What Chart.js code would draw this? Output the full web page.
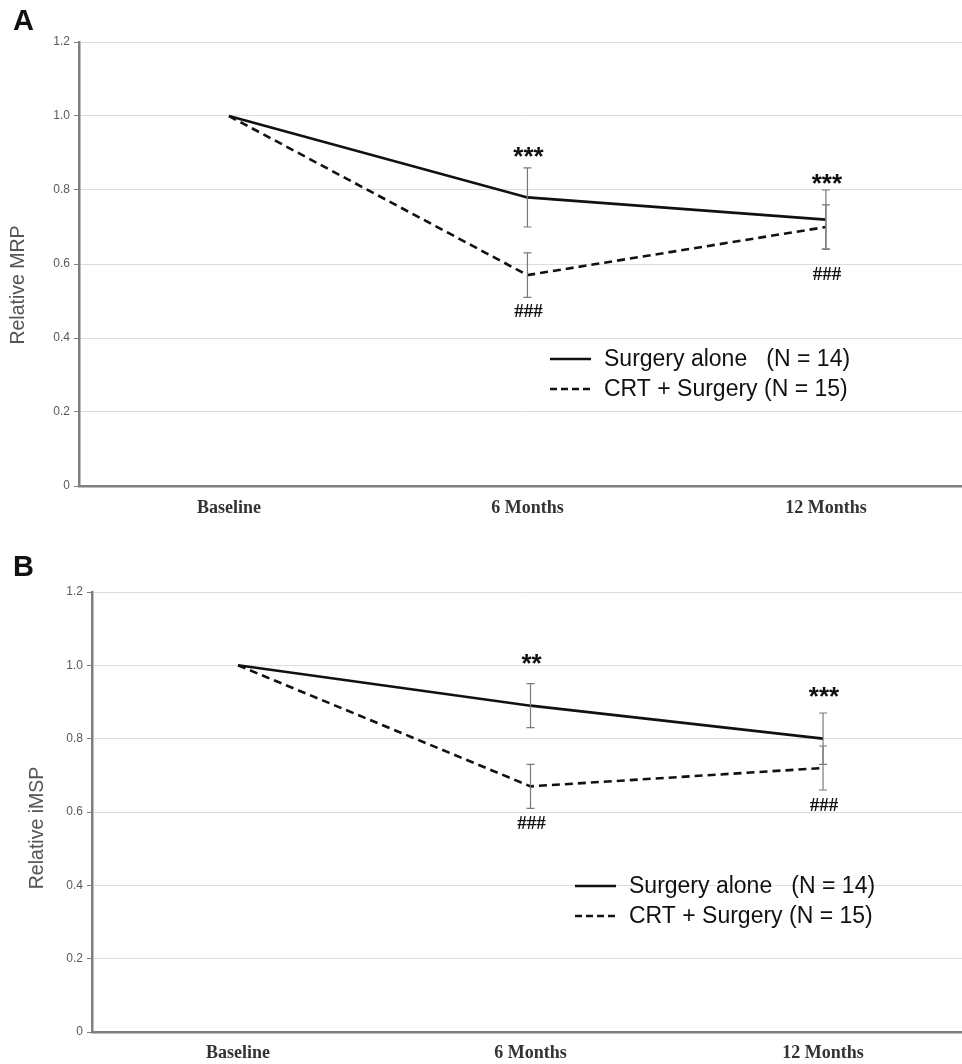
<!DOCTYPE html>
<html>
<head>
<meta charset="utf-8">
<script src="https://cdn.jsdelivr.net/npm/chart.js@4"></script>
<style>
  html, body { margin: 0; padding: 0; background: #fff; }
  body { width: 962px; height: 1064px; position: relative; overflow: hidden; }
  .panel { position: absolute; left: 0; width: 962px; }
  .tag { position: absolute; left: 13px; font: bold 29px "Liberation Sans", Arial, sans-serif; color: #111; z-index: 2; }
</style>
</head>
<body>
<div class="tag" style="top:4px">A</div>
<div class="tag" style="top:550px">B</div>
<div class="panel" style="top:0;height:535px"><canvas id="chartA" width="962" height="535"></canvas></div>
<div class="panel" style="top:540px;height:524px"><canvas id="chartB" width="962" height="524"></canvas></div>
<script>
const categories = ['Baseline', '6 Months', '12 Months'];
const yTicks = [0, 0.2, 0.4, 0.6, 0.8, 1.0, 1.2];
const seriesNames = ['Surgery alone   (N = 14)', 'CRT + Surgery (N = 15)'];

// panel A - relative MRP
const mrpSurgery = [1.0, 0.78, 0.72];
const mrpSurgeryLow = [null, 0.70, 0.64];
const mrpSurgeryHigh = [null, 0.86, 0.80];
const mrpCrt = [1.0, 0.57, 0.70];
const mrpCrtLow = [null, 0.51, 0.64];
const mrpCrtHigh = [null, 0.63, 0.76];
const mrpMarks = [
    { i: 1, y: 0.905, text: '***' },
    { i: 1, y: 0.473, text: '###' },
    { i: 2, y: 0.832, text: '***' },
    { i: 2, y: 0.573, text: '###' }
];

// panel B - relative iMSP
const imspSurgery = [1.0, 0.89, 0.80];
const imspSurgeryLow = [null, 0.83, 0.73];
const imspSurgeryHigh = [null, 0.95, 0.87];
const imspCrt = [1.0, 0.67, 0.72];
const imspCrtLow = [null, 0.61, 0.66];
const imspCrtHigh = [null, 0.73, 0.78];
const imspMarks = [
    { i: 1, y: 1.02, text: '**' },
    { i: 1, y: 0.57, text: '###' },
    { i: 2, y: 0.93, text: '***' },
    { i: 2, y: 0.619, text: '###' }
];

const toPoints = arr => arr.map((v, i) => ({ x: i, y: v }));

// error bars, significance marks, legend and y title
const extras = {
    id: 'extras',
    afterDatasetsDraw(chart, args, opts) {
        const { ctx } = chart;
        const xs = chart.scales.x, ys = chart.scales.y;
        ctx.save();
        ctx.strokeStyle = '#7a7a7a';
        ctx.lineWidth = 1.2;
        opts.errors.forEach(([lo, hi]) => {
            lo.forEach((l, i) => {
                if (l === null) return;
                const x = xs.getPixelForValue(i);
                const y1 = ys.getPixelForValue(l), y2 = ys.getPixelForValue(hi[i]);
                ctx.beginPath();
                ctx.moveTo(x, y1); ctx.lineTo(x, y2);
                ctx.moveTo(x - 4, y1); ctx.lineTo(x + 4, y1);
                ctx.moveTo(x - 4, y2); ctx.lineTo(x + 4, y2);
                ctx.stroke();
            });
        });

        ctx.fillStyle = '#111';
        ctx.textAlign = 'center';
        ctx.textBaseline = 'middle';
        opts.marks.forEach(m => {
            const x = xs.getPixelForValue(m.i);
            const y = ys.getPixelForValue(m.y);
            if (m.text[0] === '*') {
                ctx.font = 'bold 26px "Liberation Sans", Arial, sans-serif';
                ctx.fillText(m.text, x + 1, y + 7);
            } else {
                ctx.font = 'bold 19px "Liberation Serif", "Times New Roman", serif';
                ctx.fillText(m.text, x + 1, y + 1);
            }
        });

        // legend
        const lg = opts.legend;
        ctx.font = '23px "Liberation Sans", Arial, sans-serif';
        ctx.textAlign = 'left';
        ctx.strokeStyle = '#111';
        ctx.lineWidth = 2.5;
        seriesNames.forEach((name, k) => {
            const y = lg.y + k * 30;
            ctx.setLineDash(k === 0 ? [] : [7, 4]);
            ctx.beginPath();
            ctx.moveTo(lg.x, y); ctx.lineTo(lg.x + 41, y);
            ctx.stroke();
            ctx.fillText(name, lg.x + 54, y + 1);
        });
        ctx.setLineDash([]);

        // y axis title
        ctx.translate(opts.title.x, opts.title.y);
        ctx.rotate(-Math.PI / 2);
        ctx.textAlign = 'center';
        ctx.fillStyle = '#555';
        ctx.font = '19.5px "Liberation Sans", Arial, sans-serif';
        ctx.fillText(opts.title.text, 0, 0);
        ctx.restore();
    }
};

function makeChart(id, cfg) {
    return new Chart(document.getElementById(id), {
        type: 'line',
        data: {
            datasets: [
                {
                    label: seriesNames[0],
                    data: toPoints(cfg.surgery),
                    borderColor: '#111',
                    borderWidth: 2.6,
                    pointRadius: 0,
                    tension: 0
                },
                {
                    label: seriesNames[1],
                    data: toPoints(cfg.crt),
                    borderColor: '#111',
                    borderWidth: 2.6,
                    borderDash: [8, 5],
                    pointRadius: 0,
                    tension: 0
                }
            ]
        },
        options: {
            responsive: false,
            animation: false,
            layout: { padding: { top: cfg.top, right: 0, left: 0, bottom: 0 } },
            plugins: {
                legend: { display: false },
                tooltip: { enabled: false },
                extras: {
                    errors: cfg.errors,
                    marks: cfg.marks,
                    legend: cfg.legend,
                    title: cfg.title
                }
            },
            scales: {
                x: {
                    type: 'linear',
                    min: cfg.xMin,
                    max: cfg.xMax,
                    afterBuildTicks: s => { s.ticks = categories.map((c, i) => ({ value: i })); },
                    afterFit: s => { s.height = cfg.xHeight; },
                    grid: { display: false, drawTicks: false },
                    border: { color: '#7f7f7f', width: 2.5 },
                    ticks: {
                        padding: cfg.xPad,
                        color: '#333',
                        font: { family: '"Liberation Serif", "Times New Roman", serif', size: 18, weight: 'bold' },
                        callback: v => categories[v]
                    }
                },
                y: {
                    min: 0,
                    max: 1.2,
                    afterBuildTicks: s => { s.ticks = yTicks.map(v => ({ value: v })); },
                    afterFit: s => { s.width = cfg.yWidth; },
                    grid: { color: '#dcdcdc', lineWidth: 1, tickLength: 5, tickColor: '#7f7f7f' },
                    border: { color: '#7f7f7f', width: 2.5 },
                    ticks: {
                        padding: 4,
                        color: '#595959',
                        font: { family: '"Liberation Sans", Arial, sans-serif', size: 12 },
                        callback: v => v === 0 ? '0' : v.toFixed(1)
                    }
                }
            }
        },
        plugins: [extras]
    });
}

makeChart('chartA', {
    surgery: mrpSurgery,
    crt: mrpCrt,
    errors: [[mrpSurgeryLow, mrpSurgeryHigh], [mrpCrtLow, mrpCrtHigh]],
    marks: mrpMarks,
    top: 42,
    xHeight: 49,
    xPad: 12,
    yWidth: 79,
    xMin: -0.5025,
    xMax: 2.456,
    legend: { x: 550, y: 359 },
    title: { x: 19, y: 285, text: 'Relative MRP' }
});

makeChart('chartB', {
    surgery: imspSurgery,
    crt: imspCrt,
    errors: [[imspSurgeryLow, imspSurgeryHigh], [imspCrtLow, imspCrtHigh]],
    marks: imspMarks,
    top: 52,
    xHeight: 32,
    xPad: 11,
    yWidth: 92,
    xMin: -0.499,
    xMax: 2.475,
    legend: { x: 575, y: 346 },
    title: { x: 38, y: 288, text: 'Relative iMSP' }
});
</script>
</body>
</html>
